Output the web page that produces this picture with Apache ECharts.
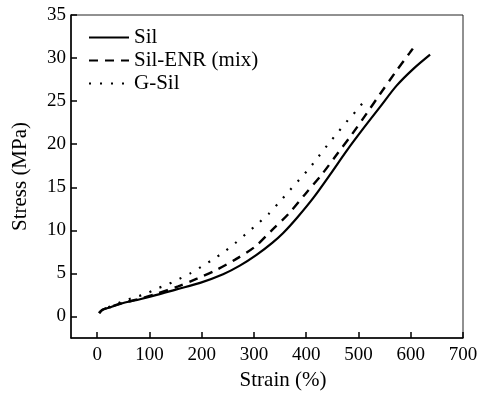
<!DOCTYPE html>
<html>
<head>
<meta charset="utf-8">
<script src="https://cdn.jsdelivr.net/npm/echarts@6/dist/echarts.min.js"></script>
<style>
html,body{margin:0;padding:0;background:#fff;}
#chart{width:490px;height:396px;}
</style>
</head>
<body>
<div id="chart"></div>
<script>
// Data: [strain %, stress MPa]
const silData = [[4,0.4],[10,0.75],[25,1.06],[50,1.56],[82,2.0],[114,2.5],[152,3.15],[197,3.9],[241,4.9],[273,5.9],[305,7.15],[335,8.55],[356,9.7],[383,11.5],[414,13.8],[446,16.5],[477,19.2],[509,21.8],[541,24.3],[573,26.8],[605,28.75],[637,30.4]];
const silEnrData = [[4,0.4],[10,0.78],[25,1.1],[50,1.6],[82,2.05],[114,2.65],[155,3.5],[191,4.4],[228,5.4],[264,6.6],[302,8.1],[334,10.0],[366,11.9],[398,14.2],[430,16.5],[461,19.0],[487,21.1],[516,23.6],[541,25.8],[570,28.3],[598,30.6],[604,31.1]];
const gSilData = [[4,0.4],[10,0.8],[25,1.15],[47,1.7],[70,2.2],[92,2.6],[113,3.2],[134,3.7],[155,4.3],[178,5.0],[200,5.8],[221,6.6],[243,7.5],[264,8.5],[285,9.6],[306,10.7],[328,11.9],[349,13.3],[368,14.6],[387,15.9],[406,17.2],[424,18.6],[442,20.0],[461,21.4],[480,22.8],[499,24.1],[517,25.5]];
const seriesNames = ['Sil', 'Sil-ENR (mix)', 'G-Sil'];
const xTicks = [0,100,200,300,400,500,600,700];
const yTicks = [0,5,10,15,20,25,30,35];

const font = 'Liberation Serif';
const chart = echarts.init(document.getElementById('chart'));
chart.setOption({
  animation: false,
  backgroundColor: '#fff',
  grid: {left: 71, right: 27, top: 15, bottom: 53, show: true, borderColor: '#222', borderWidth: 1},
  legend: {
    orient: 'vertical', left: 83, top: 22, itemGap: 2,
    itemWidth: 40, itemHeight: 14,
    itemStyle: {opacity: 0},
    textStyle: {fontFamily: font, fontSize: 21, color: '#000'},
    data: seriesNames
  },
  xAxis: {
    type: 'value', min: -50, max: 700,
    name: 'Strain (%)', nameLocation: 'middle', nameGap: 32,
    nameTextStyle: {fontFamily: font, fontSize: 21, color: '#000', padding: [0,0,0,32]},
    axisLine: {onZero: false, lineStyle: {color: '#000', width: 1.5}},
    axisTick: {inside: true, length: 6, lineStyle: {color: '#000', width: 1.5}, customValues: xTicks},
    axisLabel: {fontFamily: font, fontSize: 19, color: '#000', margin: 8, customValues: xTicks},
    splitLine: {show: false}
  },
  yAxis: {
    type: 'value', min: -2.5, max: 35,
    name: 'Stress (MPa)', nameLocation: 'middle', nameGap: 40,
    nameTextStyle: {fontFamily: font, fontSize: 21, color: '#000'},
    axisLine: {onZero: false, lineStyle: {color: '#000', width: 1.5}},
    axisTick: {inside: true, length: 6, lineStyle: {color: '#000', width: 1.5}, customValues: yTicks},
    axisLabel: {fontFamily: font, fontSize: 19, color: '#000', margin: 5, customValues: yTicks},
    splitLine: {show: false}
  },
  series: [
    {name: seriesNames[0], type: 'line', data: silData, symbol: 'none', smooth: 0.3,
     lineStyle: {color: '#000', width: 2.2, type: 'solid'}, itemStyle: {color: '#000'}},
    {name: seriesNames[1], type: 'line', data: silEnrData, symbol: 'none', smooth: 0.3,
     lineStyle: {color: '#000', width: 2.4, type: [9, 7]}, itemStyle: {color: '#000'}},
    {name: seriesNames[2], type: 'line', data: gSilData, symbol: 'none', smooth: 0.3,
     lineStyle: {color: '#000', width: 2.2, type: [2, 9]}, itemStyle: {color: '#000'}}
  ]
});
</script>
</body>
</html>
